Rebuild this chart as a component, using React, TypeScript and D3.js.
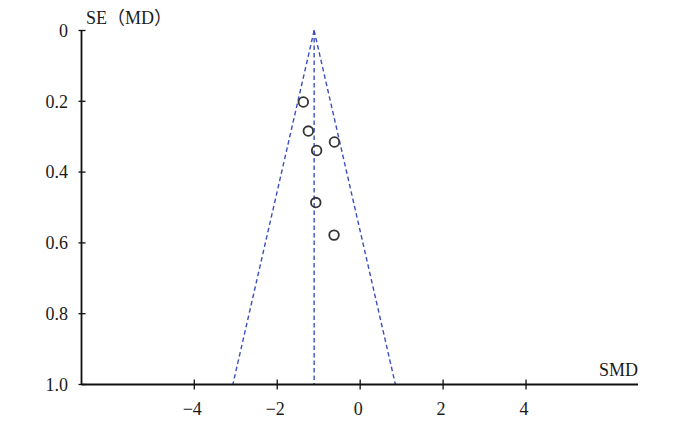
import React from "react";
import * as d3 from "d3";

const studySMD = [-1.37, -1.25, -0.62, -1.05, -1.07, -0.63];
const studySE = [0.202, 0.284, 0.315, 0.339, 0.486, 0.578];
const pooledSMD = -1.11;
const xTicks = [-4, -2, 0, 2, 4];
const yTicks = [0, 0.2, 0.4, 0.6, 0.8, 1.0];
const yTickLabels = ["0", "0.2", "0.4", "0.6", "0.8", "1.0"];

const W = 679;
const H = 426;

export default function App() {
  const x = d3.scaleLinear().domain([-6.72, 6.7]).range([81.5, 638]);
  const y = d3.scaleLinear().domain([0, 1]).range([30.5, 384.5]);
  const font = "Liberation Serif";
  const blue = "#3a4fbf";
  const fmtX = (v: number) => (v < 0 ? "\u2212" + Math.abs(v) : String(v));
  const funnel = d3.line<[number, number]>().x((d) => x(d[0])).y((d) => y(d[1]));
  const left: [number, number][] = [[pooledSMD, 0], [pooledSMD - 1.96, 1]];
  const right: [number, number][] = [[pooledSMD, 0], [pooledSMD + 1.96, 1]];
  const mid: [number, number][] = [[pooledSMD, 0], [pooledSMD, 1]];
  return (
    <svg width={W} height={H} style={{ position: "absolute", left: 0, top: 0, background: "#fff" }}>
      {[left, right, mid].map((p, i) => (
        <path key={i} d={funnel(p) || ""} fill="none" stroke={blue} strokeWidth={1.4} strokeDasharray="4.5,3" />
      ))}
      <line x1={x.range()[0]} x2={x.range()[0]} y1={y(0)} y2={y(1)} stroke="#111" strokeWidth={1.8} />
      <line x1={x.range()[0]} x2={x.range()[1]} y1={y(1)} y2={y(1)} stroke="#111" strokeWidth={2} />
      {yTicks.map((t, i) => (
        <g key={i}>
          <line x1={x.range()[0] - 3} x2={x.range()[0] + 4} y1={y(t)} y2={y(t)} stroke="#111" strokeWidth={1.3} />
          <text x={68} y={y(t)} dy="0.35em" textAnchor="end" style={{ fontFamily: font }} fontSize={18} fill="#1a1a1a">
            {yTickLabels[i]}
          </text>
        </g>
      ))}
      {xTicks.map((t, i) => (
        <g key={i}>
          <line x1={x(t)} x2={x(t)} y1={y(1) - 5} y2={y(1) + 5} stroke="#111" strokeWidth={1.3} />
          <text x={x(t) - 2} y={y(1) + 24} dy="0.35em" textAnchor="middle" style={{ fontFamily: font }} fontSize={18} fill="#1a1a1a">
            {fmtX(t)}
          </text>
        </g>
      ))}
      <text x={86} y={24} style={{ fontFamily: "Liberation Serif, Noto Sans CJK SC" }} fontSize={18} fill="#1a1a1a">
        SE（MD）
      </text>
      <text x={638} y={376} textAnchor="end" style={{ fontFamily: font }} fontSize={18} fill="#1a1a1a">
        SMD
      </text>
      {studySMD.map((v, i) => (
        <circle key={i} cx={x(v)} cy={y(studySE[i])} r={4.8} fill="none" stroke="#333" strokeWidth={1.8} />
      ))}
    </svg>
  );
}
